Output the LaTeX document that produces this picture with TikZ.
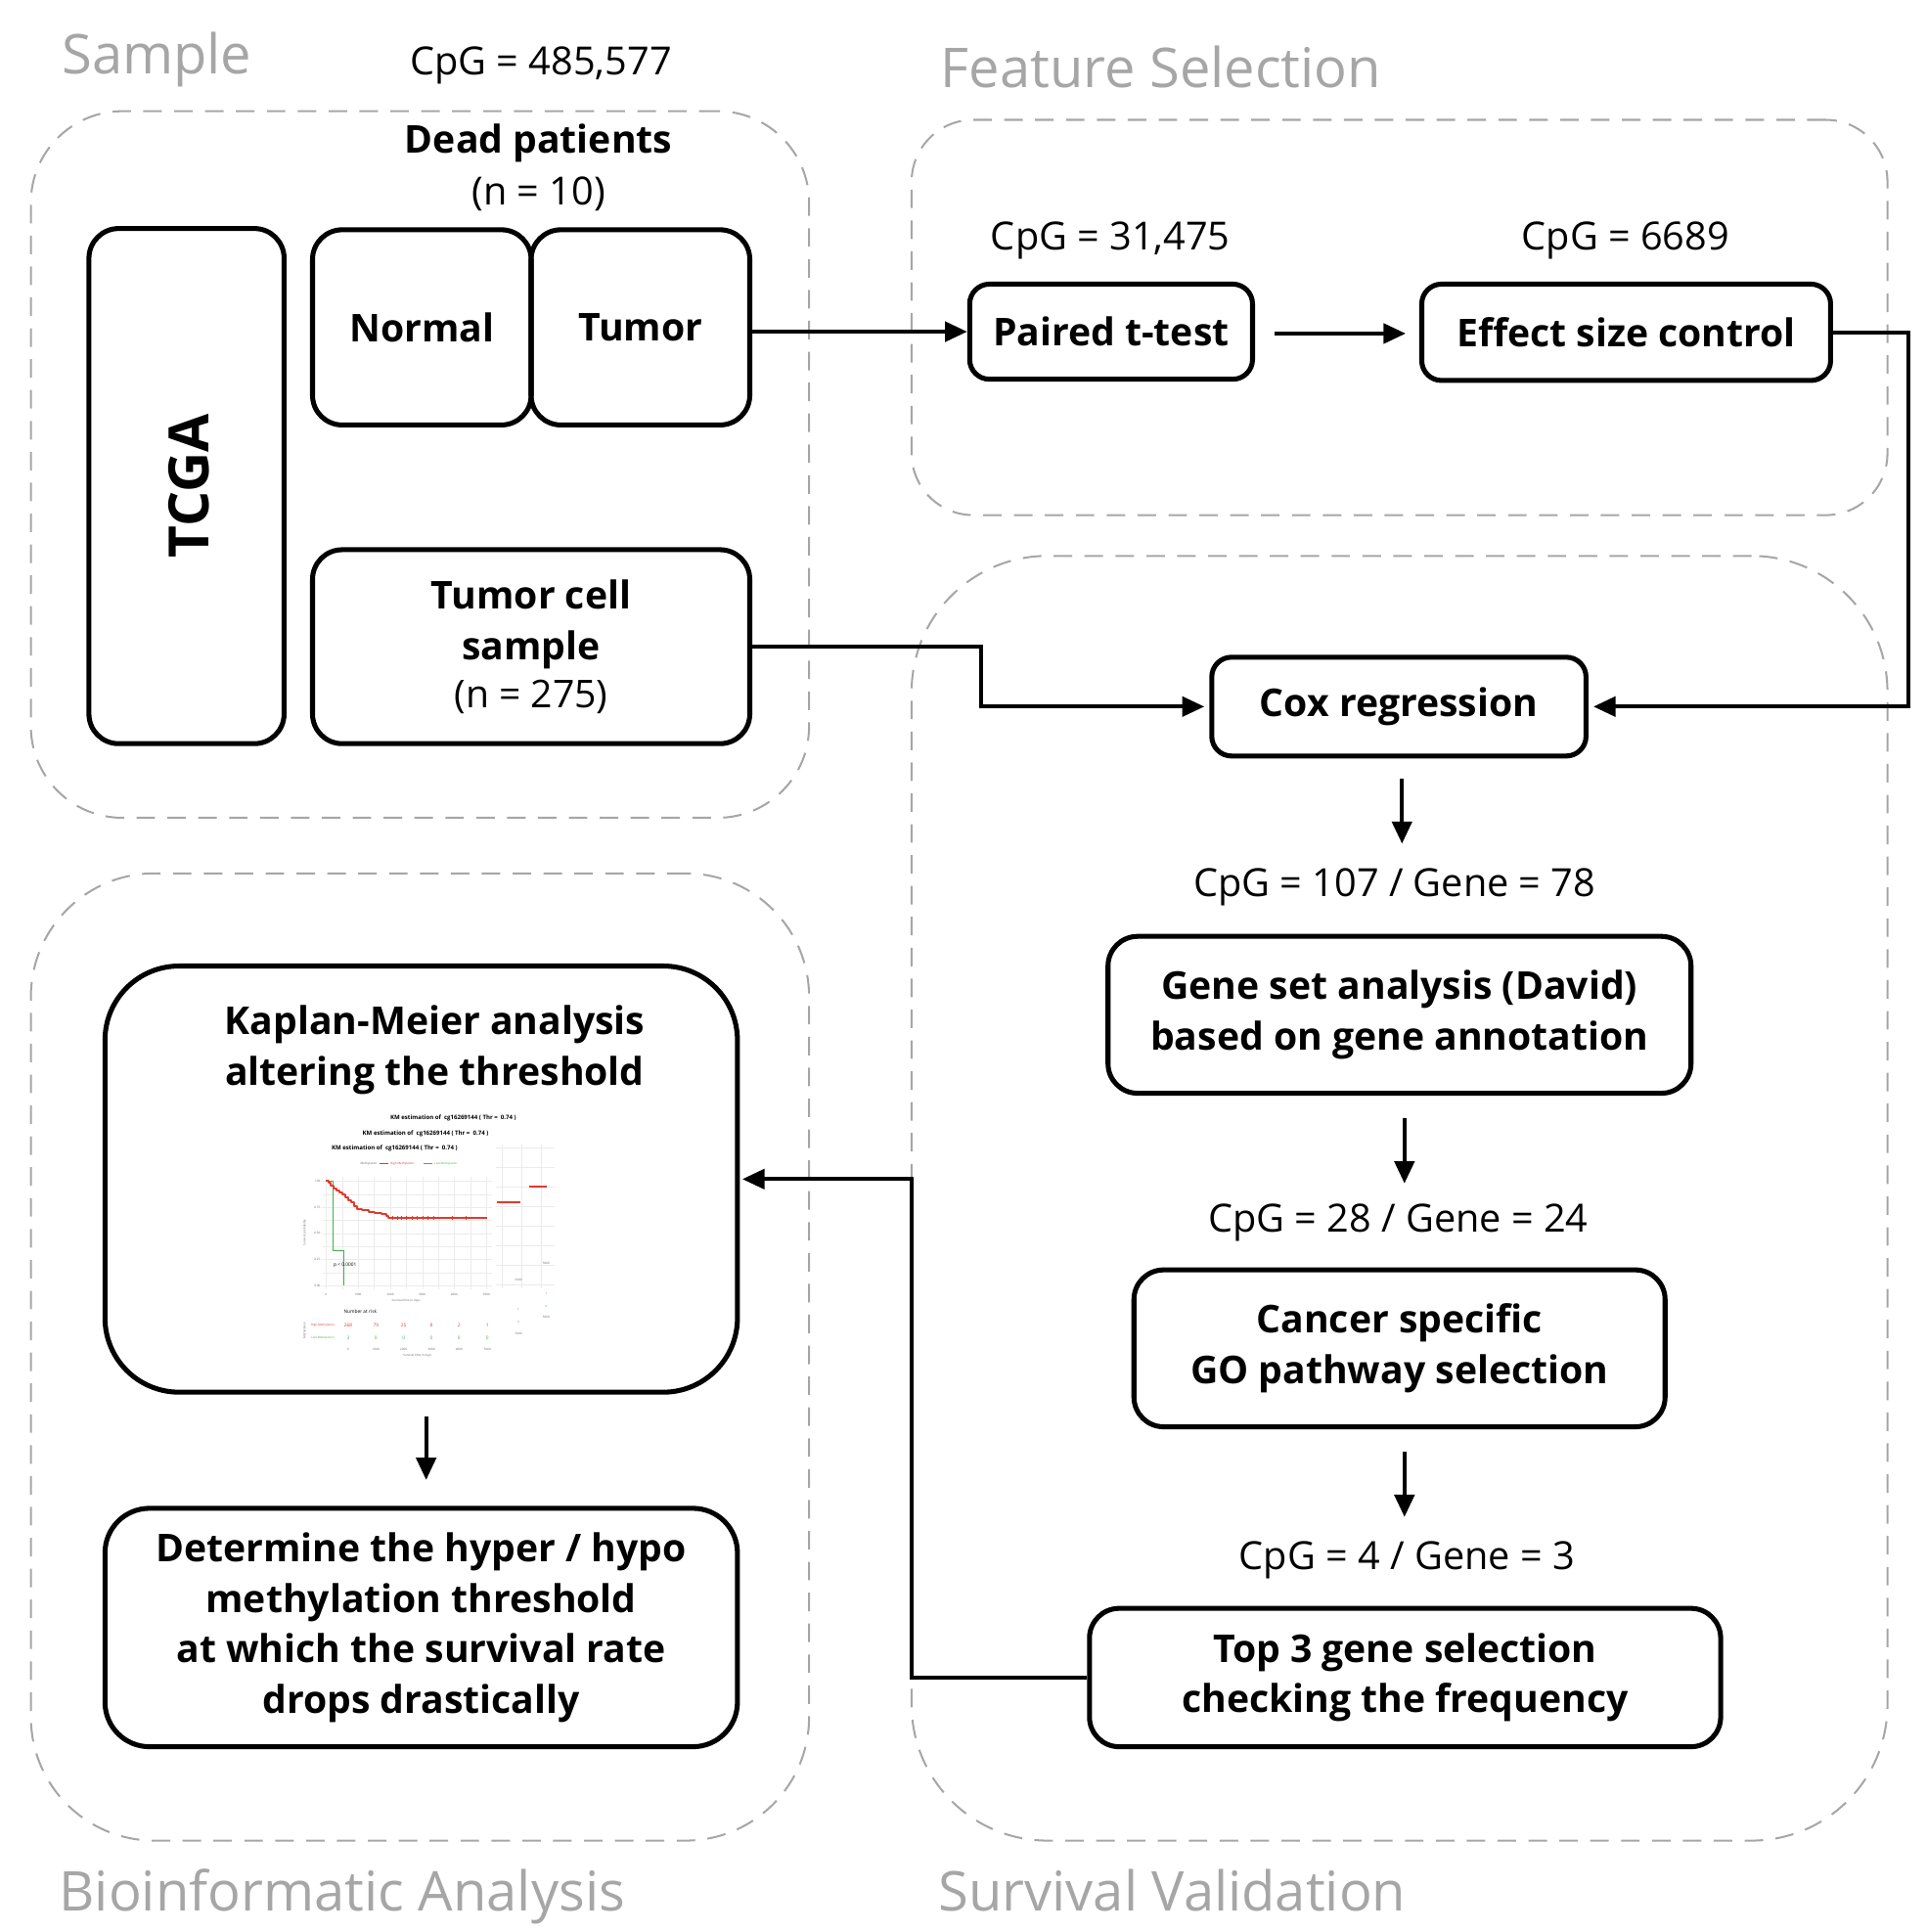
\documentclass[tikz,border=0pt]{standalone}
\usepackage{fontspec}
\setmainfont{Open Sans}
\usetikzlibrary{arrows.meta,calc}
\definecolor{regiongray}{HTML}{A6A6A6}
\definecolor{kmred}{HTML}{E3392B}
\definecolor{kmgreen}{HTML}{3DB54A}
\newcommand\kmfs[1]{\fontsize{#1}{#1}\selectfont}
\tikzset{
  box/.style={draw, line width=2pt, rounded corners=12pt, align=center,
    font=\bfseries\fontsize{15.5}{20.5}\selectfont, inner sep=0pt},
  region/.style={draw=regiongray, line width=0.8pt, dash pattern=on 7.5pt off 5pt, inner sep=0pt},
  regtitle/.style={text=regiongray, font=\fontsize{22.2}{26}\selectfont, inner sep=0pt, anchor=base},
  cpg/.style={font=\fontsize{15.7}{18}\selectfont, inner sep=0pt},
  arr/.style={line width=1.6pt, -{Triangle[length=9pt,width=8pt]}},
  kmgrid/.style={draw=black!8, line width=0.12pt},
  kmt/.style={inner sep=0pt, font=\bfseries\kmfs{2.4}},
  kms/.style={inner sep=0pt, font=\kmfs{1.2}, text=black!60},
  kmm/.style={inner sep=0pt, font=\kmfs{1.9}},
}
\begin{document}
\begin{tikzpicture}[x=0.5pt,y=-0.5pt]
\useasboundingbox (0,0) rectangle (1560,1564);

% ---------- regions ----------
\node[region, rounded corners=37pt, minimum width=315pt, minimum height=286pt] (rsample) at (340,376) {};
\node[region, rounded corners=25pt, minimum width=395pt, minimum height=160pt] (rfeat) at (1133,257) {};
\node[region, rounded corners=50pt, minimum width=315pt, minimum height=391.5pt] (rbio) at (340,1098.5) {};
\node[region, rounded corners=55pt, minimum width=395pt, minimum height=520pt] (rsurv) at (1133,970) {};

\node[regtitle] (tsample) at (127,60) {Sample};
\node[regtitle] (tfeat) at (940,71) {Feature Selection};
\node[regtitle] (tbio) at (277,1547) {Bioinformatic Analysis};
\node[regtitle] (tsurv) at (949,1547) {Survival Validation};

% ---------- sample ----------
\node[cpg] (cpg0) at (438,53) {CpG = 485,577};
\node[inner sep=0pt, font=\bfseries\fontsize{15.5}{18}\selectfont] (dead) at (436,116) {Dead patients};
\node[cpg] (n10) at (436,157) {(n = 10)};

\node[box, minimum width=79pt, minimum height=208.5pt] (tcga) at (151,393.5) {};
\node[inner sep=0pt, rotate=90, font=\bfseries\fontsize{22.5}{24}\selectfont] (tcgat) at (153,393.5) {TCGA};
\node[box, minimum width=88.5pt, minimum height=79pt] (normal) at (341.5,265) {Normal};
\node[box, minimum width=88.5pt, minimum height=79pt] (tumor) at (518.5,265) {Tumor};
\node[box, minimum width=177pt, minimum height=78.5pt] (tcs) at (430,523.5)
  {Tumor cell\\sample\\[-1pt]{\mdseries (n = 275)}};

% ---------- feature selection ----------
\node[cpg] (cpg1) at (899,195) {CpG = 31,475};
\node[cpg] (cpg2) at (1316,195) {CpG = 6689};
\node[box, rounded corners=8pt, minimum width=114.5pt, minimum height=38.5pt] (paired) at (899.5,268.5) {Paired t-test};
\node[box, rounded corners=8pt, minimum width=165.5pt, minimum height=39pt] (effect) at (1316.5,269) {Effect size control};

% ---------- survival validation ----------
\node[box, rounded corners=8pt, minimum width=151.5pt, minimum height=40pt] (cox) at (1132.5,572) {Cox regression};
\node[cpg] (cpg3) at (1129,718) {CpG = 107 / Gene = 78};
\node[box, minimum width=236pt, minimum height=63.5pt] (gsa) at (1133,821.5) {Gene set analysis (David)\\based on gene annotation};
\node[cpg] (cpg4) at (1132,990) {CpG = 28 / Gene = 24};
\node[box, minimum width=215pt, minimum height=63.5pt] (cancer) at (1133,1091.5) {Cancer specific\\GO pathway selection};
\node[cpg] (cpg5) at (1139,1263) {CpG = 4 / Gene = 3};
\node[box, minimum width=255.5pt, minimum height=56pt] (top3) at (1137.5,1358) {Top 3 gene selection\\checking the frequency};

% ---------- bioinformatic analysis ----------
\node[box, rounded corners=30pt, minimum width=256pt, minimum height=172.5pt] (km) at (341,954.5) {};
\node[inner sep=0pt, align=center, font=\bfseries\fontsize{15.5}{20.5}\selectfont] (kmtitle) at (352,850)
  {Kaplan-Meier analysis\\altering the threshold};
\node[box, rounded corners=18pt, minimum width=256pt, minimum height=96.5pt] (det) at (341,1317.5)
  {Determine the hyper / hypo\\methylation threshold\\at which the survival rate\\drops drastically};

% ---------- KM plot thumbnail ----------
\begin{scope}[shift={(221.73,886.9)}, x=0.132pt, y=-0.132pt]
  % right-hand fragments of stacked plots
  \foreach \yy in {160,220,280,340,400,460,520,580} \draw[kmgrid] (680,\yy) -- (860,\yy);
  \foreach \xx in {700,760,820} \draw[kmgrid] (\xx,150) -- (\xx,590);
  \draw[kmred, line width=0.6pt] (685,327) -- (755,327);
  \draw[kmred, line width=0.6pt] (783,279) -- (838,279);
  \node[kms] (kr1) at (750,565) {5000};
  \node[kms] (kr2) at (835,515) {5000};
  \node[kms, text=kmred] (kr3) at (835,608) {1};
  \node[kms, text=kmgreen] (kr4) at (835,645) {0};
  \node[kms] (kr5) at (835,680) {5000};
  \node[kms, text=kmred] (kr6) at (750,655) {1};
  \node[kms, text=kmgreen] (kr7) at (750,693) {0};
  \node[kms] (kr8) at (750,730) {5000};
  % panel grid
  \foreach \yy in {262,302,342,382,422,462,502,542,582} \draw[kmgrid] (150,\yy) -- (670,\yy);
  \foreach \xx in {160,209,258,307,357,406,455,504,553,602,652} \draw[kmgrid] (\xx,250) -- (\xx,595);
  % titles
  \node[kmt] (kmt1) at (550,68) {KM estimation of\ \ cg16269144 ( Thr =\ \ 0.74 )};
  \node[kmt] (kmt2) at (465,117) {KM estimation of\ \ cg16269144 ( Thr =\ \ 0.74 )};
  \node[kmt] (kmt3) at (370,163) {KM estimation of\ \ cg16269144 ( Thr =\ \ 0.74 )};
  % legend
  \node[kms, anchor=east] (lg0) at (318,208) {Methylation};
  \draw[kmred, line width=0.3pt] (325,208) -- (352,208);
  \node[kms, anchor=west, text=kmred] (lg1) at (356,208) {High Methylation};
  \draw[kmgreen, line width=0.3pt] (460,208) -- (487,208);
  \node[kms, anchor=west, text=kmgreen] (lg2) at (491,208) {Low Methylation};
  % axes labels
  \foreach \v/\yy in {1.00/262,0.75/342,0.50/422,0.25/502,0.00/582}
    \node[kms, anchor=east] (ky\yy) at (148,\yy) {\v\,-};
  \node[kms, rotate=90] (kyt) at (95,420) {Survival probability};
  \foreach \v/\xx in {0/160,1000/258,2000/357,3000/455,4000/553,5000/652}
    \node[kms] (kx\xx) at (\xx,610) {\v};
  \node[kms] (kxt) at (405,630) {Survival time in days};
  % curves
  \draw[kmgreen, line width=0.3pt] (160,262) -- (180,262) -- (180,475) -- (215,475) -- (215,582);
  \draw[kmred, line width=0.75pt, line join=round]
    (160,262) -- (168,262) -- (168,268) -- (175,268) -- (175,276) -- (183,276) -- (183,284)
    -- (192,284) -- (192,291) -- (200,291) -- (200,297) -- (210,297) -- (210,304) -- (220,304)
    -- (220,312) -- (228,312) -- (228,320) -- (238,320) -- (238,328) -- (246,328) -- (246,340)
    -- (255,340) -- (255,348) -- (270,348) -- (270,352) -- (290,352) -- (290,357) -- (310,357)
    -- (310,360) -- (330,360) -- (330,363) -- (345,363) -- (345,370) -- (352,370) -- (352,376)
    -- (655,376);
  \foreach \xx in {365,378,392,406,425,440,456,472,490,546,590}
    \draw[kmred, line width=0.2pt] (\xx,370) -- (\xx,382);
  \node[kmm] (pval) at (218,520) {p < 0.0001};
  % risk table
  \node[kmm] (nrisk) at (265,663) {Number at risk};
  \node[kms, rotate=90] (kmeth) at (95,720) {Methylation};
  \node[kms, text=kmred] (hm) at (150,703) {High Methylation};
  \node[kms, text=kmgreen] (lm) at (150,742) {Low Methylation};
  \foreach \v/\xx in {268/228,79/313,25/398,8/483,2/568,1/655}
    \node[kmm, text=kmred] (rh\xx) at (\xx,705) {\v};
  \foreach \v/\xx in {3/228,0/313,0/398,0/483,0/568,0/655}
    \node[kmm, text=kmgreen] (rl\xx) at (\xx,742) {\v};
  \foreach \v/\xx in {0/228,1000/313,2000/398,3000/483,4000/568,5000/655}
    \node[kms] (rx\xx) at (\xx,778) {\v};
  \node[kms] (rxt) at (440,797) {Survival time in days};
\end{scope}

% ---------- connectors ----------
\draw[arr] (tumor.east |- paired.west) -- (paired.west);
\draw[arr] ($(paired.east)+(16,1.5)$) -- ($(effect.west)+(-11,1)$);
\draw[arr, shorten >=2pt] (effect.east) -- ++(61,0) |- (cox.east);
\draw[arr, shorten >=2pt] (tcs.east) -- ++(185,0) |- (cox.west);
\draw[arr] ($(cox.south)+(2.5,16)$) -- ($(cox.south |- cpg3.center)+(2.5,-35)$);
\draw[arr] ($(gsa.south)+(4,18)$) -- ($(gsa.south |- cpg4.center)+(4,-32)$);
\draw[arr] ($(cancer.south)+(4,18)$) -- ($(cancer.south |- cpg5.center)+(4,-35)$);
\draw[arr, shorten >=1pt] (top3.west) -- ++(-142,0) |- (km.east);
\draw[arr] ($(km.south)+(4,18)$) -- ($(det.north)+(4,-21)$);
\end{tikzpicture}
\end{document}
